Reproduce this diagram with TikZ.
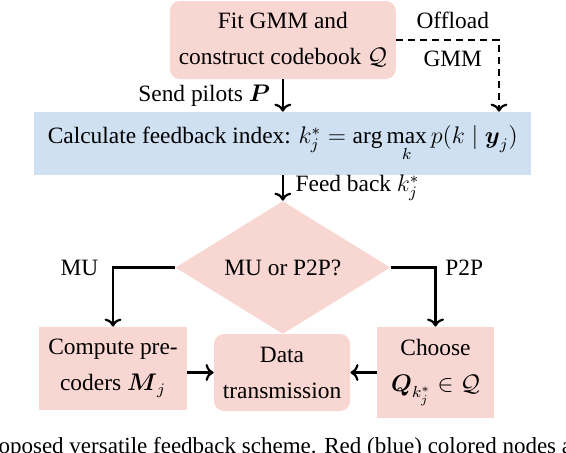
\documentclass[tikz,border=0pt]{standalone}
\usepackage{amsmath,amssymb}
\usepackage{fontspec}
\setmainfont{Liberation Serif}
\usetikzlibrary{shapes.geometric,arrows.meta}

\definecolor{gmmred}{RGB}{248,214,209}
\definecolor{gmmblue}{RGB}{206,224,241}

\begin{document}
\begin{tikzpicture}[
  font=\fontsize{11.7}{18}\selectfont,
  redbox/.style={fill=gmmred, align=center, inner sep=0pt},
  bluebox/.style={fill=gmmblue, align=center, inner sep=0pt},
  flow/.style={->, line width=1.1pt},
]
  \useasboundingbox (0,0) rectangle (9.946,7.943);
  % Offline stage and feedback index
  \node[redbox, rounded corners=5pt, minimum width=113pt, minimum height=39pt] (fit) at (4.97,7.24) {Fit GMM and\\construct codebook $\mathcal{Q}$};
  \node[bluebox, minimum width=248.5pt, minimum height=31.5pt] (calc) at (4.97,5.42) {Calculate feedback index: $k_j^* = \arg\max\limits_k p(k \mid \boldsymbol{y}_j)$};
  \coordinate (offl) at (8.769,7.24);
  \draw[flow] (fit) -- node[midway, left=2.5pt] (lblpilot) {Send pilots $\boldsymbol{P}$} (calc);
  \draw[flow, dash pattern=on 3.5pt off 2.5pt] (fit.east) -- node[pos=0.55, above=1.8pt] (lbloff) {Offload} node[pos=0.55, below=1.8pt] (lblgmm) {GMM} (offl) -- (offl |- calc.north);
  % Decision
  \node[redbox, diamond, minimum width=107.5pt, minimum height=54.5pt] (dec) at (4.97,3.242) {MU or P2P?};
  \draw[flow] (calc) -- node[midway, right=2.5pt] (lblfeed) {Feed back $k_j^*$} (dec);
  % Precoding and transmission
  \node[redbox, minimum width=74pt, minimum height=41.5pt] (comp) at (1.986,1.467) {Compute pre-\\coders $\boldsymbol{M}_j$};
  \node[redbox, rounded corners=5pt, minimum width=68pt, minimum height=38.5pt] (data) at (4.956,1.397) {Data\\transmission};
  \node[redbox, minimum width=58.5pt, minimum height=45.5pt] (choose) at (7.653,1.397) {Choose\\$\boldsymbol{Q}_{k_j^*} \in \mathcal{Q}$};
  \draw[flow] (dec.west) -| node[pos=0.5, left=3.5pt] (lblmu) {MU} (comp.north);
  \draw[flow] (dec.east) -| node[pos=0.5, right=1pt] (lblp2p) {P2P} (choose.north);
  \draw[flow] (comp.east |- data.west) -- (data.west);
  \draw[flow] (choose.west |- data.east) -- (data.east);
  % Caption, cut by the frame
  \begin{scope}
    \clip (0,0) rectangle (9.946,7.943);
    \node[anchor=base west, inner sep=0pt, font=\fontsize{11.5}{13}\selectfont] (capt) at (-0.369,-0.02) {proposed versatile feedback scheme. Red (blue) colored nodes are};
  \end{scope}
\end{tikzpicture}
\end{document}
